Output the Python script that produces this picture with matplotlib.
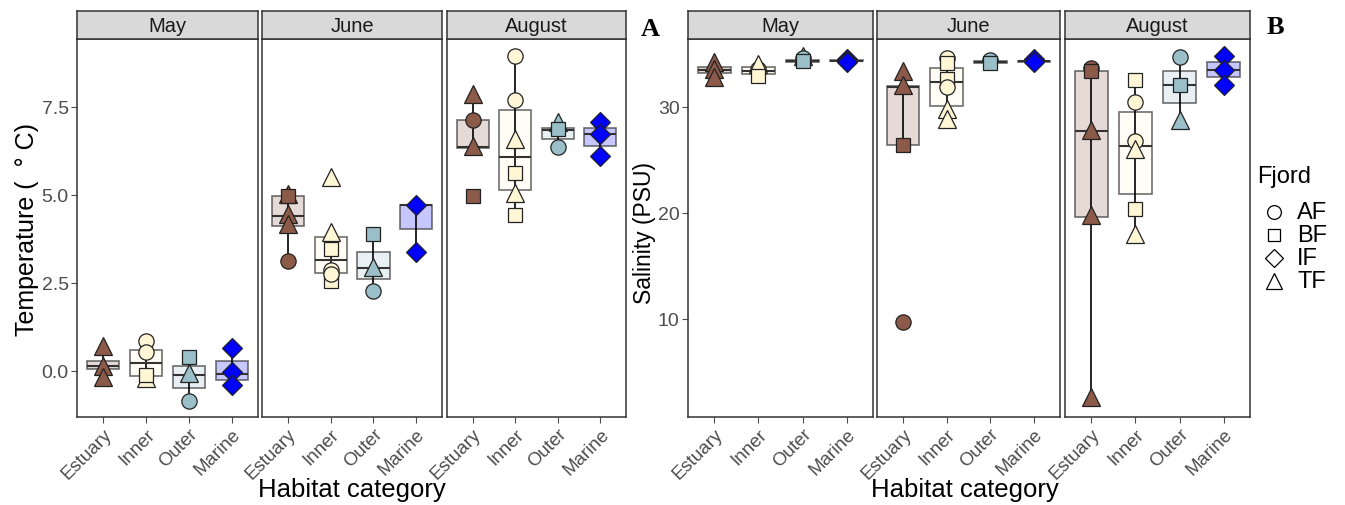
import matplotlib
matplotlib.use("Agg")
import matplotlib.pyplot as plt
from matplotlib.lines import Line2D

plt.rcParams['font.family'] = ['Liberation Sans', 'DejaVu Sans']

W, H = 1345, 506

months = ["May", "June", "August"]
categories = ["Estuary", "Inner", "Outer", "Marine"]
fjords = ["AF", "BF", "IF", "TF"]

cat_colors = {"Estuary": "#8C5A48", "Inner": "#FFF6D5", "Outer": "#9BBFC9", "Marine": "#0000FF"}
fjord_markers = {"AF": "o", "BF": "s", "IF": "D", "TF": "^"}
fjord_msize = {"AF": 11, "BF": 10, "IF": 10, "TF": 13}

# Box statistics per category: [q1, median, q3, whisker_low, whisker_high]
temp_box_may = [[0.06, 0.14, 0.28, -0.17, 0.71], [-0.14, 0.23, 0.60, -0.20, 0.85],
                [-0.48, -0.11, 0.14, -0.85, 0.39], [-0.26, -0.09, 0.28, -0.40, 0.65]]
temp_box_june = [[4.12, 4.40, 4.97, 3.12, 5.03], [2.78, 3.15, 3.81, 2.56, 3.95],
                 [2.61, 2.92, 3.38, 2.27, 3.89], [4.03, 4.72, 4.72, 3.38, 4.72]]
temp_box_aug = [[6.34, 6.37, 7.13, 6.34, 7.87], [5.14, 6.08, 7.41, 4.43, 8.95],
                [6.59, 6.85, 6.90, 6.36, 7.07], [6.39, 6.73, 6.90, 6.11, 7.07]]

# Points: (category, fjord, value)
temp_pts_may = [("Estuary", "TF", 0.71), ("Estuary", "TF", 0.14), ("Estuary", "TF", -0.17),
                ("Inner", "AF", 0.85), ("Inner", "AF", 0.54), ("Inner", "TF", -0.20), ("Inner", "BF", -0.11),
                ("Outer", "BF", 0.39), ("Outer", "TF", -0.06), ("Outer", "AF", -0.85),
                ("Marine", "IF", 0.65), ("Marine", "IF", -0.03), ("Marine", "IF", -0.40)]
temp_pts_june = [("Estuary", "TF", 5.03), ("Estuary", "BF", 4.97), ("Estuary", "TF", 4.46),
                 ("Estuary", "TF", 4.18), ("Estuary", "AF", 3.12),
                 ("Inner", "TF", 5.50), ("Inner", "TF", 3.95), ("Inner", "BF", 3.47),
                 ("Inner", "BF", 2.56), ("Inner", "AF", 2.87), ("Inner", "AF", 2.76),
                 ("Outer", "BF", 3.89), ("Outer", "TF", 2.95), ("Outer", "AF", 2.27),
                 ("Marine", "IF", 4.72), ("Marine", "IF", 3.38)]
temp_pts_aug = [("Estuary", "TF", 7.87), ("Estuary", "AF", 7.13), ("Estuary", "TF", 6.39), ("Estuary", "BF", 4.97),
                ("Inner", "AF", 8.95), ("Inner", "AF", 7.70), ("Inner", "TF", 6.59), ("Inner", "BF", 5.63),
                ("Inner", "TF", 5.06), ("Inner", "BF", 4.43),
                ("Outer", "TF", 7.07), ("Outer", "BF", 6.88), ("Outer", "AF", 6.36),
                ("Marine", "IF", 7.07), ("Marine", "IF", 6.73), ("Marine", "IF", 6.11)]

sal_box_may = [[33.2, 33.5, 33.8, 32.8, 34.2], [33.1, 33.4, 33.8, 32.9, 34.0],
               [34.2, 34.3, 34.4, 34.2, 34.8], [34.3, 34.35, 34.4, 34.2, 34.5]]
sal_box_june = [[26.4, 31.9, 32.0, 26.4, 33.4], [30.1, 32.3, 33.7, 28.9, 34.6],
                [34.1, 34.2, 34.3, 34.1, 34.4], [34.25, 34.3, 34.35, 34.2, 34.5]]
sal_box_aug = [[19.6, 27.7, 33.4, 2.6, 33.7], [21.8, 26.3, 29.5, 18.0, 32.5],
               [30.4, 32.1, 33.4, 28.8, 34.7], [32.8, 33.5, 34.2, 32.1, 34.8]]

sal_pts_may = [("Estuary", "TF", 34.2), ("Estuary", "TF", 33.6), ("Estuary", "TF", 32.8),
               ("Inner", "AF", 33.6), ("Inner", "TF", 34.0), ("Inner", "BF", 32.9),
               ("Outer", "TF", 34.8), ("Outer", "AF", 34.6), ("Outer", "BF", 34.3),
               ("Marine", "IF", 34.5), ("Marine", "IF", 34.3), ("Marine", "IF", 34.2)]
sal_pts_june = [("Estuary", "TF", 33.4), ("Estuary", "TF", 32.1), ("Estuary", "BF", 26.4), ("Estuary", "AF", 9.7),
                ("Inner", "AF", 34.6), ("Inner", "BF", 34.1), ("Inner", "BF", 32.6), ("Inner", "AF", 31.9),
                ("Inner", "TF", 29.8), ("Inner", "TF", 28.9),
                ("Outer", "AF", 34.4), ("Outer", "BF", 34.1),
                ("Marine", "IF", 34.5), ("Marine", "IF", 34.2)]
sal_pts_aug = [("Estuary", "AF", 33.7), ("Estuary", "BF", 33.4), ("Estuary", "TF", 27.8),
               ("Estuary", "TF", 19.8), ("Estuary", "TF", 2.6),
               ("Inner", "BF", 32.5), ("Inner", "AF", 30.5), ("Inner", "AF", 26.8), ("Inner", "TF", 26.0),
               ("Inner", "BF", 20.4), ("Inner", "TF", 18.0),
               ("Outer", "AF", 34.7), ("Outer", "BF", 32.1), ("Outer", "TF", 28.8),
               ("Marine", "IF", 34.8), ("Marine", "IF", 33.5), ("Marine", "IF", 32.1)]

temp_ticks = [0.0, 2.5, 5.0, 7.5]
temp_ticklabels = ["0.0", "2.5", "5.0", "7.5"]
sal_ticks = [10, 20, 30]

fig = plt.figure(figsize=(W / 100, H / 100), dpi=100)


def add_ax(x0, y0, x1, y1):
    return fig.add_axes([x0 / W, 1 - y1 / H, (x1 - x0) / W, (y1 - y0) / H])


def draw_panel(ax, boxes, pts, ylim, yticks, ytl, show_y):
    stats = []
    for c, b in zip(categories, boxes):
        stats.append(dict(q1=b[0], med=b[1], q3=b[2], whislo=b[3], whishi=b[4], label=c))
    pos = list(range(1, len(categories) + 1))
    for p, b in zip(pos, boxes):
        ax.plot([p, p], [b[3], b[4]], color="black", lw=1.2, zorder=2)
    bp = ax.bxp(stats, positions=pos, widths=0.75, showfliers=False, showcaps=False,
                patch_artist=True,
                whiskerprops=dict(lw=0), medianprops=dict(color="#333333", lw=1.5),
                boxprops=dict(lw=1.2))
    for patch, c in zip(bp['boxes'], categories):
        patch.set_facecolor(matplotlib.colors.to_rgba(cat_colors[c], 0.22))
        patch.set_edgecolor((0.2, 0.2, 0.2, 0.7))
        patch.set_zorder(1)
    for (c, f, v) in pts:
        p = categories.index(c) + 1
        ax.plot([p], [v], marker=fjord_markers[f], ms=fjord_msize[f], mfc=cat_colors[c],
                mec="#222222", mew=0.9, ls="none", zorder=3)
    ax.set_xlim(0.4, 4.6)
    ax.set_ylim(*ylim)
    ax.set_xticks(pos)
    ax.set_xticklabels(categories, rotation=45, ha="right", va="top",
                       rotation_mode="anchor", fontsize=13.5, color="#4D4D4D")
    ax.set_yticks(yticks)
    if show_y:
        ax.set_yticklabels(ytl, fontsize=14, color="#4D4D4D")
    else:
        ax.set_yticklabels([])
    ax.tick_params(axis="both", color="#4D4D4D", width=0.8, length=4, pad=2)
    if not show_y:
        ax.tick_params(axis="y", length=0)
    for s in ax.spines.values():
        s.set_color("#333333")
        s.set_linewidth(1.1)


def strip(x0, x1, text):
    sa = add_ax(x0, 12, x1, 40)
    sa.set_facecolor("#D9D9D9")
    sa.set_xticks([])
    sa.set_yticks([])
    for s in sa.spines.values():
        s.set_color("#333333")
        s.set_linewidth(1.1)
    sa.text(0.5, 0.48, text, ha="center", va="center", fontsize=14.5, color="#1A1A1A",
            transform=sa.transAxes)


left_x = [(77, 258), (262, 442), (447, 626)]
right_x = [(688, 873), (877, 1060), (1065, 1250)]

temp_boxes = [temp_box_may, temp_box_june, temp_box_aug]
temp_pts = [temp_pts_may, temp_pts_june, temp_pts_aug]
sal_boxes = [sal_box_may, sal_box_june, sal_box_aug]
sal_pts = [sal_pts_may, sal_pts_june, sal_pts_aug]

for i, m in enumerate(months):
    x0, x1 = left_x[i]
    ax = add_ax(x0, 40, x1, 418)
    draw_panel(ax, temp_boxes[i], temp_pts[i], (-1.31, 9.43), temp_ticks, temp_ticklabels, i == 0)
    strip(x0, x1, m)
    x0, x1 = right_x[i]
    ax = add_ax(x0, 40, x1, 418)
    draw_panel(ax, sal_boxes[i], sal_pts[i], (0.75, 36.4), sal_ticks,
               [str(t) for t in sal_ticks], i == 0)
    strip(x0, x1, m)

fig.text(27 / W, 1 - 229 / H, "Temperature (  ° C)", rotation=90, ha="center", va="center", fontsize=18)
fig.text(645 / W, 1 - 233 / H, "Salinity (PSU)", rotation=90, ha="center", va="center", fontsize=16.5)
fig.text(352 / W, 1 - 490 / H, "Habitat category", ha="center", va="center", fontsize=18.5)
fig.text(965 / W, 1 - 490 / H, "Habitat category", ha="center", va="center", fontsize=18.5)
fig.text(650 / W, 1 - 30 / H, "A", ha="center", va="center", fontsize=19, fontweight="bold",
         family="Liberation Serif")
fig.text(1275 / W, 1 - 28 / H, "B", ha="center", va="center", fontsize=19, fontweight="bold",
         family="Liberation Serif")

# legend
fig.text(1257 / W, 1 - 177 / H, "Fjord", ha="left", va="center", fontsize=17)
for j, f in enumerate(fjords):
    yy = 1 - (213 + 23 * j) / H
    fig.add_artist(Line2D([1274 / W], [yy], marker=fjord_markers[f], ms=fjord_msize[f] * 0.9,
                          mfc="white", mec="black", mew=0.9, ls="none", transform=fig.transFigure))
    fig.text(1297 / W, yy, f, ha="left", va="center", fontsize=17)

fig.savefig("out.png", dpi=100)
